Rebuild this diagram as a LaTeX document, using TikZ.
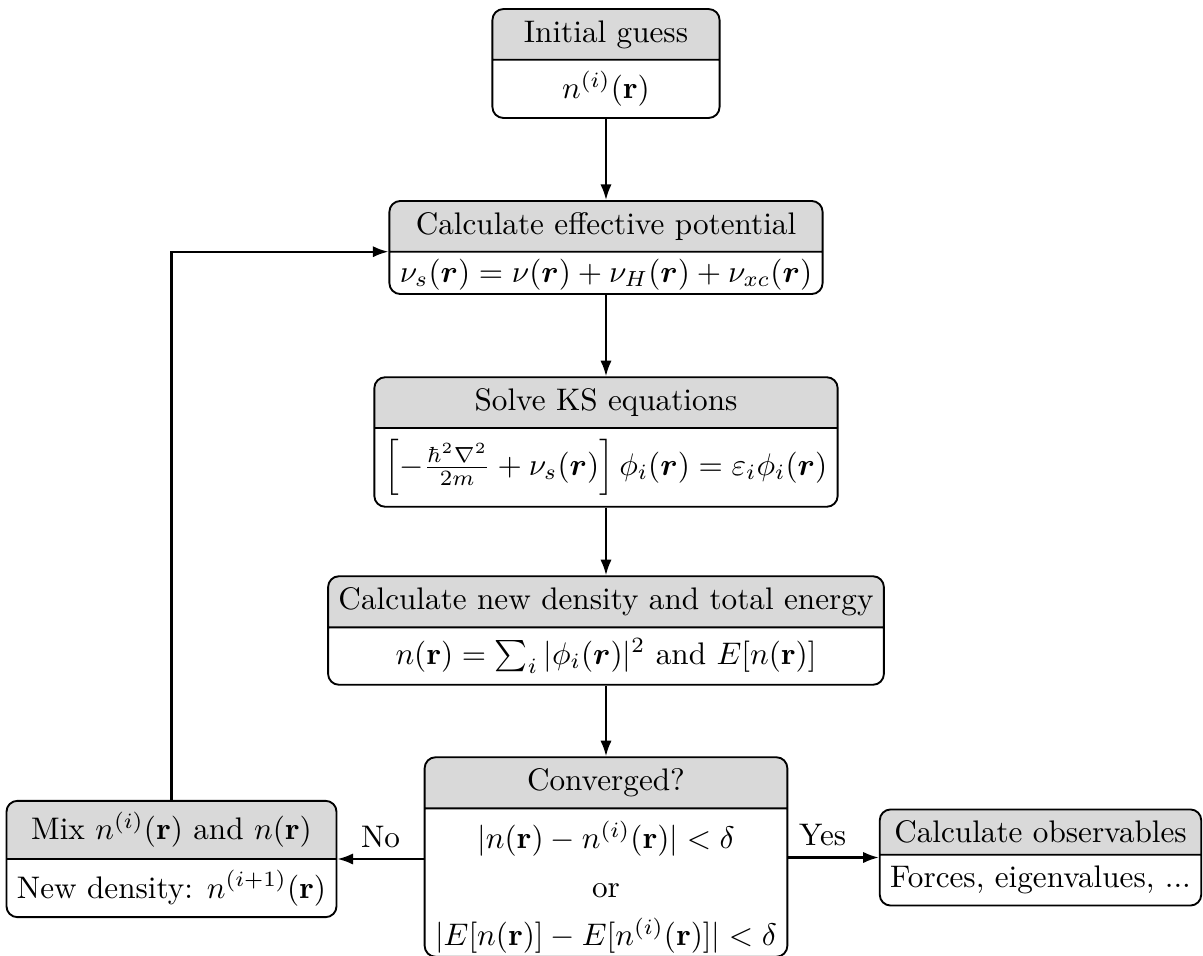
\documentclass[tikz,border=0pt]{standalone}
\usepackage{amsmath,bm}
\usetikzlibrary{shapes.multipart,arrows.meta}
\begin{document}
\begin{tikzpicture}[x=0.3205pt,y=-0.3205pt,
  box/.style={rectangle split, rectangle split parts=2, draw, rounded corners=3.5pt,
    line width=0.6pt, rectangle split part fill={gray!30,white}, inner sep=0.3333em,
    align=center},
  conn/.style={-{Latex[length=5pt,width=3.6pt]}, line width=0.7pt}]
\useasboundingbox (0,0) rectangle (1203,956);

\node[box, minimum width=72.8pt] (init) at (606,63.5)
  {Initial guess\nodepart{two}$n^{(i)}(\mathbf{r})$};
\node[box] (eff) at (606,247.5)
  {Calculate effective potential\nodepart{two}\raisebox{0pt}[\dimexpr\height-1.4pt][\dimexpr\depth-2.3pt]{$\nu_s(\bm{r})=\nu(\bm{r})+\nu_H(\bm{r})+\nu_{xc}(\bm{r})$}};
\node[box] (solve) at (606,442)
  {Solve KS equations\nodepart{two}$\left[-\frac{\hbar^2\nabla^2}{2m}+\nu_s(\bm{r})\right]\phi_i(\bm{r})=\varepsilon_i\phi_i(\bm{r})$};
\node[box] (dens) at (606,630.5)
  {Calculate new density and total energy\nodepart{two}$n(\mathbf{r})=\sum_i|\phi_i(\bm{r})|^2$ and $E[n(\mathbf{r})]$};
\node[box] (conv) at (606,857)
  {Converged?\nodepart{two}\renewcommand{\arraystretch}{1.3}\raisebox{0pt}[\dimexpr\height-1.7pt][\dimexpr\depth-4.8pt]{\begin{tabular}{@{}c@{}}$|n(\mathbf{r})-n^{(i)}(\mathbf{r})|<\delta$\\ or\\ $|E[n(\mathbf{r})]-E[n^{(i)}(\mathbf{r})]|<\delta$\end{tabular}}};
\node[box] (mix) at (171.5,859)
  {Mix $n^{(i)}(\mathbf{r})$ and $n(\mathbf{r})$\nodepart{two}New density: $n^{(i+1)}(\mathbf{r})$};
\node[box] (obs) at (1040.5,857.5)
  {Calculate observables\nodepart{two}Forces, eigenvalues, ...};

\draw[conn] (init) -- (eff);
\draw[conn] (eff) -- (solve);
\draw[conn] (solve) -- (dens);
\draw[conn] (dens) -- (conv);
\draw[conn] (conv.west |- mix.east) -- node[above]{No} (mix.east);
\draw[conn] (conv.east |- obs.west) -- node[above, pos=0.38]{Yes} (obs.west);
\draw[conn] (mix.north) |- (eff.text split west);
\end{tikzpicture}
\end{document}
